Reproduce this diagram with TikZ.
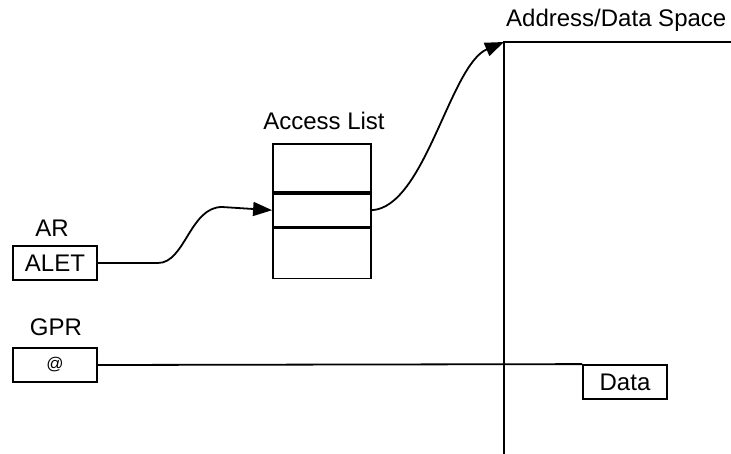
\documentclass[tikz,border=0pt]{standalone}
\usepackage{fontspec}
\setmainfont{Liberation Sans}
\usetikzlibrary{arrows.meta,positioning}

\begin{document}
\begin{tikzpicture}[x=1pt, y=-1pt,
    reg/.style={rectangle, draw, line width=1.8pt, minimum width=84pt, minimum height=34pt,
      inner sep=0pt, font=\fontsize{24}{28}\selectfont},
    cell/.style={rectangle, draw, line width=1.8pt, minimum width=98pt, inner sep=0pt, anchor=north},
    lbl/.style={inner sep=0pt, anchor=base, font=\fontsize{24}{28}\selectfont},
    arr/.style={-{Triangle[length=19pt, width=14pt]}, line width=1.8pt},
    wire/.style={line width=1.8pt}
  ]
    \useasboundingbox (0,0) rectangle (731,454);

    % registers
    \node[lbl] (arlbl) at (52,237) {AR};
    \node[reg] (alet) at (55,263) {ALET};
    \node[lbl] (gprlbl) at (56,336) {GPR};
    \node[reg, font=\fontsize{17}{20}\selectfont] (gpr) at (55,365) {@};

    % access list
    \node[lbl] (acclbl) at (324,130) {Access List};
    \node[cell, minimum height=48pt] (top) at (322,143) {};
    \node[cell, minimum height=33pt] (ent) at (top.south) {};
    \node[cell, minimum height=50pt] (bot) at (ent.south) {};

    % address/data space
    \node[lbl, anchor=base west] (spclbl) at (506,27) {Address/Data Space};
    \coordinate (spc) at (504,42);
    \draw[wire] (731,42) -- (spc) -- (504,454);
    \node[reg] (data) at (625,382) {Data};

    \draw[arr] (alet.east) -- (158,263) .. controls (185,263) and (190,207) .. (222,207) -- (ent.west);
    \draw[arr] (ent.east) .. controls (425,207) and (450,65) .. (spc);
    \draw[wire] (gpr.east) -- (data.north west);
\end{tikzpicture}
\end{document}
